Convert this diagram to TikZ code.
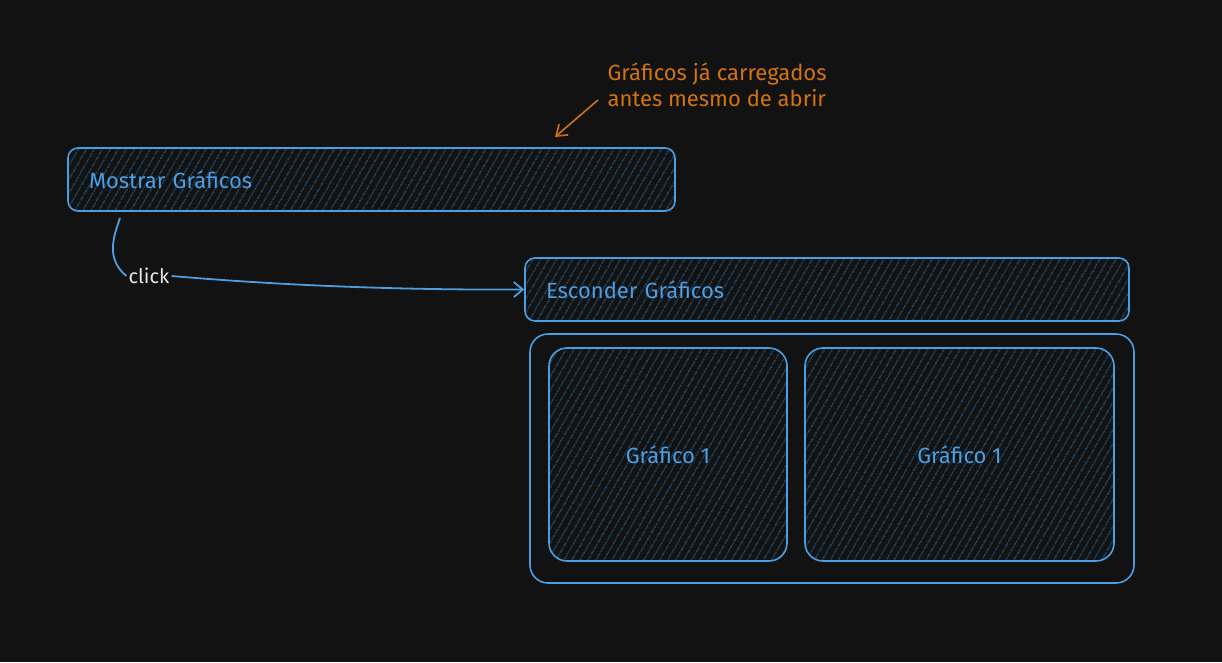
\documentclass[tikz,border=0pt]{standalone}
\usepackage{fontspec}
\setmainfont{Fira Sans}
\usepackage{tikz}
\usetikzlibrary{positioning,arrows.meta,patterns.meta}
\definecolor{bgdark}{HTML}{121212}
\definecolor{boxblue}{HTML}{4C9EE2}
\definecolor{hatchblue}{HTML}{1F4D72}
\definecolor{noteorange}{HTML}{D2730F}
\definecolor{clickwhite}{HTML}{E6E6E6}
\tikzset{
    hatchbox/.style={draw=boxblue,line width=1.6pt,rounded corners=10pt,
        pattern={Lines[angle=60,distance=6.5pt,line width=1pt]},pattern color=hatchblue,
        text=boxblue,font=\fontsize{22}{26}\selectfont},
    framebox/.style={draw=boxblue,line width=1.6pt,rounded corners=18pt},
    flow/.style={draw=boxblue,line width=1.8pt},
}
\begin{document}
\begin{tikzpicture}[x=1pt,y=-1pt]
    \fill[bgdark] (0,0) rectangle (1222,662);
    \useasboundingbox (0,0) rectangle (1222,662);
    % buttons
    \node[hatchbox,minimum height=63pt,text width=565pt,inner xsep=21pt,align=left] (Mostrar) at (371.5,179.5) {Mostrar Gráficos};
    \node[hatchbox,minimum height=63pt,text width=562pt,inner xsep=21pt,align=left] (Esconder) at (827,289.5) {Esconder Gráficos};
    % charts
    \node[framebox,minimum width=604pt,minimum height=249pt] (Painel) at (832,458.5) {};
    \node[hatchbox,rounded corners=18pt,minimum width=238pt,minimum height=213pt] (G1) at (668,454.5) {Gráfico 1};
    \node[hatchbox,rounded corners=18pt,minimum width=309pt,minimum height=213pt] (G2) at (959.5,454.5) {Gráfico 1};
    % note
    \node[text=noteorange,font=\fontsize{22}{26}\selectfont,align=left,anchor=west] (Nota) at (604,85) {Gráficos já carregados\\antes mesmo de abrir};
    \coordinate (NotaIni) at (598,100);
    \coordinate (NotaFim) at (555,137);
    \draw[draw=noteorange,line width=1.6pt,-{Straight Barb[length=10pt,width=14pt]}] (NotaIni) -- (NotaFim);
    % click
    \node[text=clickwhite,font=\fontsize{20}{24}\selectfont,inner sep=2pt] (Click) at (149,276) {click};
    \coordinate (ClickIni) at (120,218);
    \draw[flow] (ClickIni) .. controls (114,236) and (105,258) .. (Click.west);
    \draw[flow,-{Straight Barb[length=9pt,width=15pt]}] (Click.east) .. controls (300,287) and (420,290) .. (Esconder.west);
\end{tikzpicture}
\end{document}
